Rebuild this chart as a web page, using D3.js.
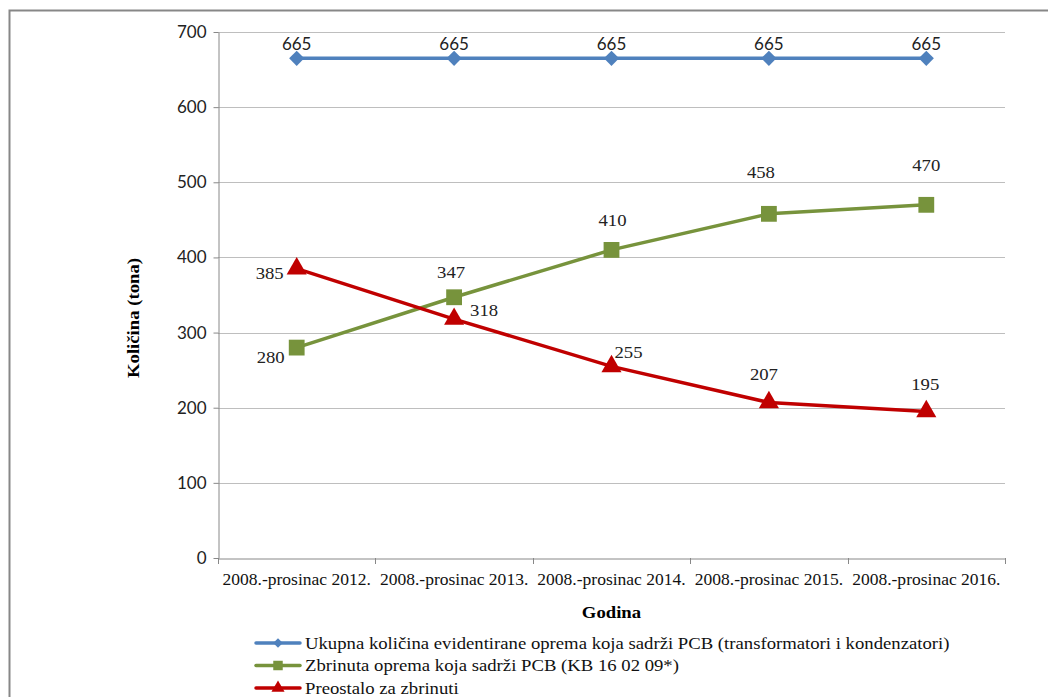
<!DOCTYPE html>
<html>
<head>
<meta charset="utf-8">
<style>
body { margin: 0; background: #fff; }
</style>
</head>
<body>
<script src="https://cdnjs.cloudflare.com/ajax/libs/d3/7.8.5/d3.min.js"></script>
<script>
// chart data
var categories = ["2008.-prosinac 2012.", "2008.-prosinac 2013.", "2008.-prosinac 2014.", "2008.-prosinac 2015.", "2008.-prosinac 2016."];
var ukupno = [665, 665, 665, 665, 665];
var zbrinuto = [280, 347, 410, 458, 470];
var preostalo = [385, 318, 255, 207, 195];
var yTicks = [0, 100, 200, 300, 400, 500, 600, 700];
var seriesNames = [
  "Ukupna količina evidentirane oprema koja sadrži PCB (transformatori i kondenzatori)",
  "Zbrinuta oprema koja sadrži PCB (KB 16 02 09*)",
  "Preostalo za zbrinuti"
];

var serif = "'Liberation Serif', 'DejaVu Serif', serif";
var sans = "Lato, 'Liberation Sans', sans-serif";

// label nudges [dx, dy] relative to each point (as placed in the original)
var series = [
  { name: seriesNames[0], values: ukupno, color: "#4F81BD", marker: "diamond", font: sans,
    nudge: [[0, -8], [0, -8], [0, -8], [0, -8], [0, -8]] },
  { name: seriesNames[1], values: zbrinuto, color: "#77933C", marker: "square", font: serif,
    nudge: [[-26, 15], [-3, -19], [1, -24], [-8, -36], [0, -34]] },
  { name: seriesNames[2], values: preostalo, color: "#C00000", marker: "triangle", font: serif,
    nudge: [[-27, 10], [30, -3], [17, -8], [-5, -22], [-1, -21]] }
];

// Book Antiqua in the original is wider than Liberation Serif
function stretch(factor) {
  return function (sel) {
    sel.each(function () {
      var w = this.getComputedTextLength();
      d3.select(this).attr("textLength", w * factor).attr("lengthAdjust", "spacingAndGlyphs");
    });
  };
}

var svg = d3.select("body").append("svg")
  .attr("width", 1048)
  .attr("height", 697);

// outer frame
svg.append("path")
  .attr("d", "M9.5,697 V10.5 H1048")
  .attr("fill", "none")
  .attr("stroke", "#878787")
  .attr("stroke-width", 2);

var plot = { left: 218, right: 1005, top: 32, bottom: 558 };

var x = d3.scaleBand().domain(categories).range([plot.left, plot.right]);
var y = d3.scaleLinear().domain([0, 700]).range([plot.bottom, plot.top]);

// gridlines
svg.append("g")
  .selectAll("line")
  .data(yTicks.filter(function (d) { return d > 0; }))
  .enter().append("line")
  .attr("x1", plot.left).attr("x2", plot.right)
  .attr("y1", function (d) { return Math.round(y(d)) + 0.5; })
  .attr("y2", function (d) { return Math.round(y(d)) + 0.5; })
  .attr("stroke", "#BEBEBE")
  .attr("stroke-width", 1);

// y axis
var yAxis = svg.append("g")
  .attr("transform", "translate(" + (plot.left + 0.5) + ",0)")
  .call(d3.axisLeft(y).tickValues(yTicks).tickSize(5).tickPadding(7).tickSizeOuter(0));
yAxis.select(".domain").attr("stroke", "#888");
yAxis.selectAll(".tick line").attr("stroke", "#888");
yAxis.selectAll(".tick text")
  .attr("font-family", sans)
  .attr("font-size", "17px")
  .attr("fill", "#222");

// x axis
var xAxis = svg.append("g")
  .attr("transform", "translate(0," + (plot.bottom + 0.5) + ")")
  .call(d3.axisBottom(x).tickSize(0).tickPadding(14));
xAxis.select(".domain").attr("stroke", "#888");
xAxis.selectAll(".tick text")
  .attr("font-family", serif)
  .attr("font-size", "17px")
  .attr("fill", "#111")
  .call(stretch(1.03));

// tick marks at category boundaries
var bounds = categories.map(function (c) { return x(c); }).concat([plot.right]);
svg.append("g")
  .selectAll("line")
  .data(bounds)
  .enter().append("line")
  .attr("x1", function (d) { return Math.round(d) + 0.5; })
  .attr("x2", function (d) { return Math.round(d) + 0.5; })
  .attr("y1", plot.bottom)
  .attr("y2", plot.bottom + 6)
  .attr("stroke", "#888");

// axis titles
svg.append("text")
  .attr("transform", "translate(139,318) rotate(-90)")
  .attr("text-anchor", "middle")
  .attr("font-family", serif)
  .attr("font-weight", "bold")
  .attr("font-size", "17px")
  .text("Količina (tona)")
  .call(stretch(1.1));

svg.append("text")
  .attr("x", (plot.left + plot.right) / 2)
  .attr("y", 618)
  .attr("text-anchor", "middle")
  .attr("font-family", serif)
  .attr("font-weight", "bold")
  .attr("font-size", "17px")
  .text("Godina")
  .call(stretch(1.1));

function cx(i) { return x(categories[i]) + x.bandwidth() / 2; }

var symbols = {
  diamond: d3.symbol().type(d3.symbolSquare).size(115),
  square: d3.symbol().type(d3.symbolSquare).size(250),
  triangle: d3.symbol().type(d3.symbolTriangle).size(175)
};

var line = d3.line()
  .x(function (d, i) { return cx(i); })
  .y(function (d) { return y(d); });

series.forEach(function (s) {
  var g = svg.append("g");
  g.append("path")
    .datum(s.values)
    .attr("d", line)
    .attr("fill", "none")
    .attr("stroke", s.color)
    .attr("stroke-width", 3.5);
  g.selectAll("path.m")
    .data(s.values)
    .enter().append("path")
    .attr("class", "m")
    .attr("d", symbols[s.marker])
    .attr("transform", function (d, i) {
      var rot = s.marker === "diamond" ? " rotate(45)" : "";
      return "translate(" + cx(i) + "," + y(d) + ")" + rot;
    })
    .attr("fill", s.color);
  var labels = g.selectAll("text")
    .data(s.values)
    .enter().append("text")
    .attr("x", function (d, i) { return cx(i) + s.nudge[i][0]; })
    .attr("y", function (d, i) { return y(d) + s.nudge[i][1]; })
    .attr("text-anchor", "middle")
    .attr("font-family", s.font)
    .attr("font-size", "17px")
    .attr("fill", "#222")
    .text(function (d) { return d; });
  if (s.font === serif) labels.call(stretch(1.1));
});

// legend
var legend = svg.append("g");
series.forEach(function (s, i) {
  var ly = 643 + i * 22.5;
  legend.append("line")
    .attr("x1", 256).attr("x2", 300)
    .attr("y1", ly).attr("y2", ly)
    .attr("stroke", s.color)
    .attr("stroke-width", 3.5)
    .attr("stroke-linecap", "round");
  var sym = s.marker === "diamond" ? d3.symbol().type(d3.symbolSquare).size(45)
          : s.marker === "square" ? d3.symbol().type(d3.symbolSquare).size(90)
          : d3.symbol().type(d3.symbolTriangle).size(75);
  legend.append("path")
    .attr("d", sym)
    .attr("transform", "translate(278," + ly + ")" + (s.marker === "diamond" ? " rotate(45)" : ""))
    .attr("fill", s.color);
  legend.append("text")
    .attr("x", 305)
    .attr("y", ly + 5.5)
    .attr("font-family", serif)
    .attr("font-size", "17px")
    .attr("fill", "#111")
    .text(s.name)
    .call(stretch(1.1));
});
</script>
</body>
</html>
